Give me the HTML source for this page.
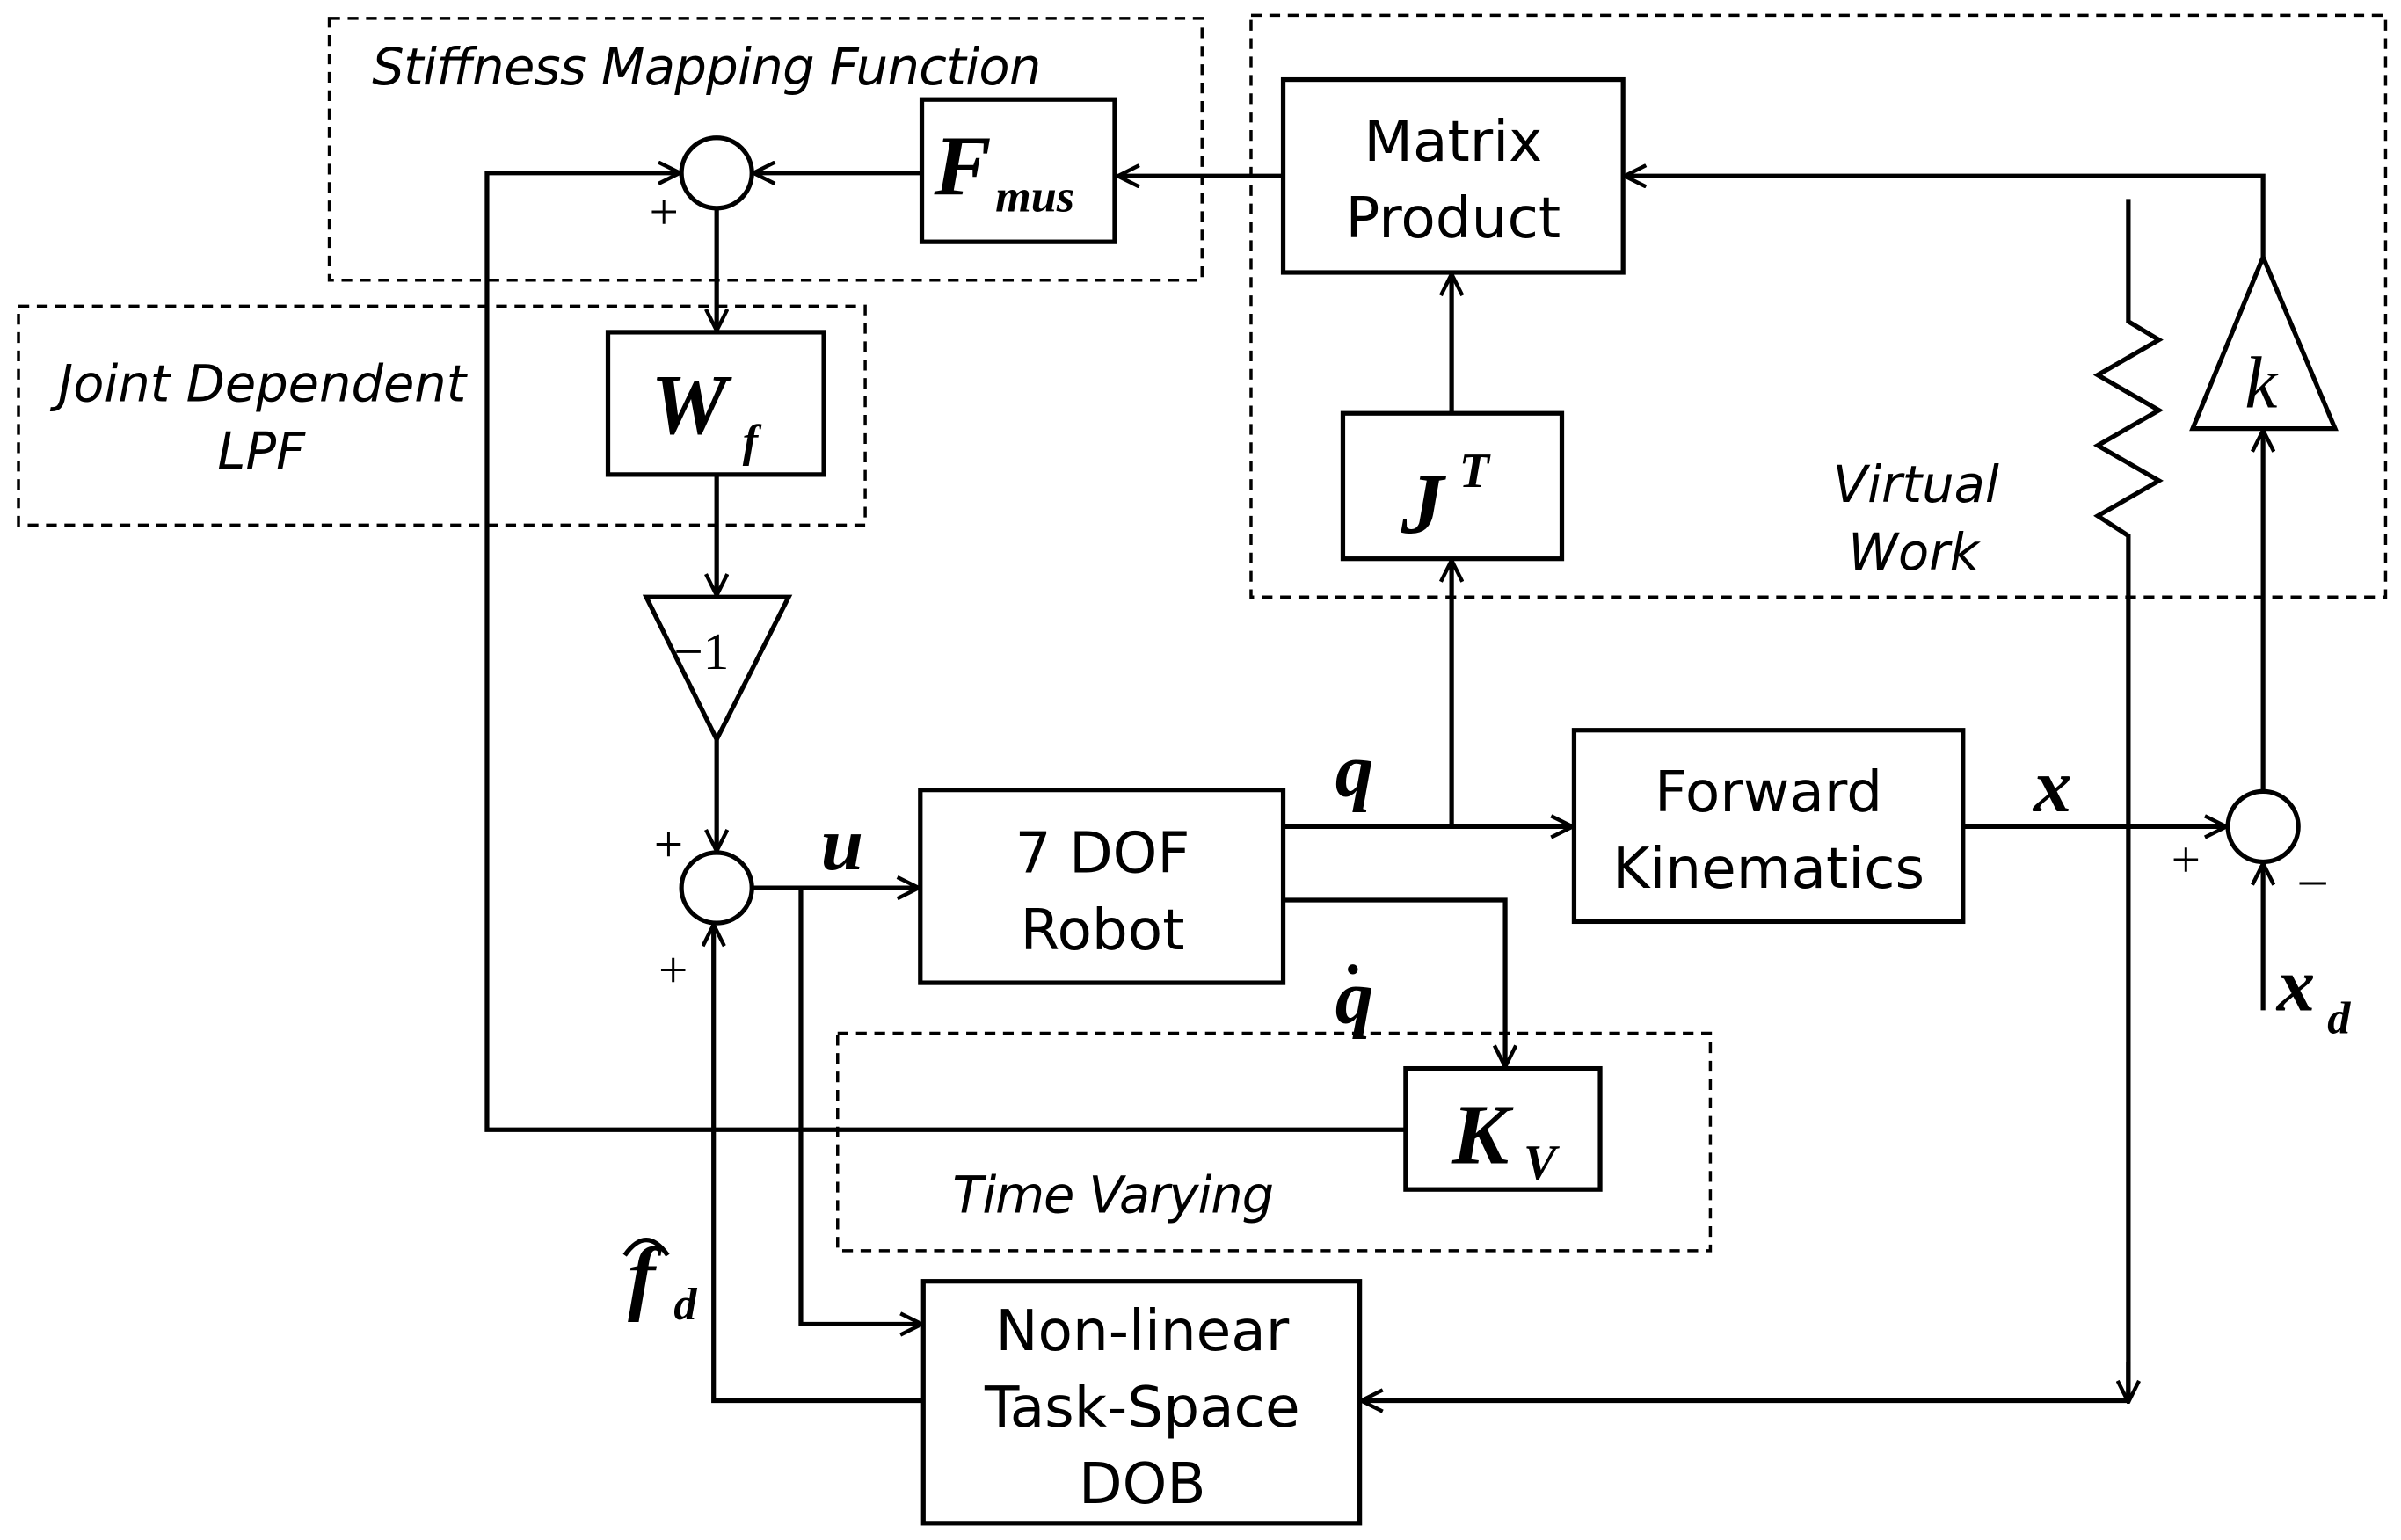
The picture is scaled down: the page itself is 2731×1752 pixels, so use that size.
<!DOCTYPE html>
<html><head><meta charset="utf-8"><style>
html,body{margin:0;padding:0;background:#fff;}
svg{display:block;}
.s{font-family:"DejaVu Sans","Liberation Sans",sans-serif;font-size:37px;fill:#000;}
.i{font-family:"DejaVu Sans","Liberation Sans",sans-serif;font-size:33px;font-style:italic;fill:#000;}
.m{font-family:"Liberation Serif",serif;font-weight:bold;font-style:italic;fill:#000;}
.p{font-family:"Liberation Serif",serif;font-size:34px;fill:#000;}
</style></head><body>
<svg width="2731" height="1752" viewBox="0 0 1568 1006" xmlns="http://www.w3.org/2000/svg">
<defs><marker id="a" markerWidth="16" markerHeight="16" refX="15" refY="8" orient="auto" markerUnits="userSpaceOnUse">
<path d="M1,1 L15,8 L1,15" fill="none" stroke="#000" stroke-width="2.5"/></marker></defs>
<g fill="none" stroke="#000" stroke-width="2" stroke-dasharray="7,5">
<rect x="215" y="12" width="570" height="171"/>
<rect x="12" y="200" width="553" height="143"/>
<rect x="817" y="10" width="741" height="380"/>
<rect x="547" y="675" width="570" height="142"/>
</g>
<g fill="none" stroke="#000" stroke-width="3">
<circle cx="468" cy="113" r="23"/>
<circle cx="468" cy="580" r="23"/>
<circle cx="1478" cy="540" r="23"/>
<rect x="602" y="65" width="126" height="93"/>
<rect x="838" y="52" width="222" height="126"/>
<rect x="397" y="217" width="141" height="93"/>
<rect x="601" y="516" width="237" height="126"/>
<rect x="877" y="270" width="143" height="95"/>
<rect x="1028" y="477" width="254" height="125"/>
<rect x="918" y="698" width="127" height="79"/>
<rect x="603" y="837" width="285" height="158"/>
<path d="M422,390 L515,390 L468,483 Z"/>
<path d="M1432,280 L1525,280 L1478,168 Z"/>
<path d="M1390,130 L1390,210 L1410,222 L1370,245 L1410,268 L1370,291 L1410,314 L1370,337 L1390,350 L1390,915"/>
</g>
<g fill="none" stroke="#000" stroke-width="3" marker-end="url(#a)">
<path d="M838,115 L730,115"/>
<path d="M602,113 L492,113"/>
<path d="M918,738 L318,738 L318,113 L444,113"/>
<path d="M468,136 L468,216"/>
<path d="M468,310 L468,389"/>
<path d="M468,483 L468,556"/>
<path d="M491,580 L600,580"/>
<path d="M523,580 L523,865 L602,865"/>
<path d="M603,915 L466,915 L466,604"/>
<path d="M838,540 L1027,540"/>
<path d="M948,540 L948,366"/>
<path d="M948,270 L948,179"/>
<path d="M838,588 L983,588 L983,697"/>
<path d="M1282,540 L1454,540"/>
<path d="M1478,517 L1478,281"/>
<path d="M1478,168 L1478,115 L1061,115"/>
<path d="M1478,660 L1478,564"/>
<path d="M1390,890 L1390,916"/>
<path d="M1390,915 L889,915"/>
</g>
<text class="i" x="243" y="55" textLength="437">Stiffness Mapping Function</text>
<text class="i" x="38" y="262">Joint Dependent</text>
<text class="i" x="142" y="306">LPF</text>
<text class="i" x="1197" y="328">Virtual</text>
<text class="i" x="1207" y="372">Work</text>
<text class="i" x="622" y="792" textLength="210">Time Varying</text>
<text class="s" x="949" y="105" text-anchor="middle">Matrix</text>
<text class="s" x="949" y="155" text-anchor="middle">Product</text>
<text class="s" x="720" y="570" text-anchor="middle">7 DOF</text>
<text class="s" x="720" y="620" text-anchor="middle">Robot</text>
<text class="s" x="1155" y="530" text-anchor="middle">Forward</text>
<text class="s" x="1155" y="580" text-anchor="middle">Kinematics</text>
<text class="s" x="746" y="882" text-anchor="middle">Non-linear</text>
<text class="s" x="746" y="932" text-anchor="middle">Task-Space</text>
<text class="s" x="746" y="982" text-anchor="middle">DOB</text>
<text class="m" x="610" y="127" font-size="56">F</text><text class="m" x="650" y="138" font-size="30">mus</text>
<text class="m" x="425" y="283" font-size="56">W</text><text class="m" x="485" y="298" font-size="30">f</text>
<text class="m" x="915" y="348" font-size="56">J</text><text class="m" x="953" y="318" font-size="32">T</text>
<text class="m" x="948" y="760" font-size="56">K</text><text class="m" x="995" y="770" font-size="32">V</text>
<text class="p" x="440" y="437" font-size="48">−1</text>
<text x="1466" y="266" font-family="Liberation Serif,serif" font-style="italic" font-size="48">k</text>
<text class="m" x="872" y="520" font-size="50">q</text>
<text class="m" x="872" y="668" font-size="50">q</text><text class="m" x="880" y="636" font-size="40">.</text>
<text class="m" x="536" y="568" font-size="50">u</text>
<text class="m" x="1328" y="530" font-size="50">x</text>
<text class="m" x="1487" y="660" font-size="50">x</text><text class="m" x="1520" y="675" font-size="30">d</text>
<text class="m" x="410" y="852" font-size="54">f</text><text class="m" x="440" y="862" font-size="30">d</text>
<path d="M408,820 Q422,800 436,820" fill="none" stroke="#000" stroke-width="3"/>
<text class="p" x="424" y="150">+</text>
<text class="p" x="427" y="563">+</text>
<text class="p" x="430" y="645">+</text>
<text class="p" x="1418" y="573">+</text>
<text class="p" x="1502" y="585">–</text>
</svg>
</body></html>
